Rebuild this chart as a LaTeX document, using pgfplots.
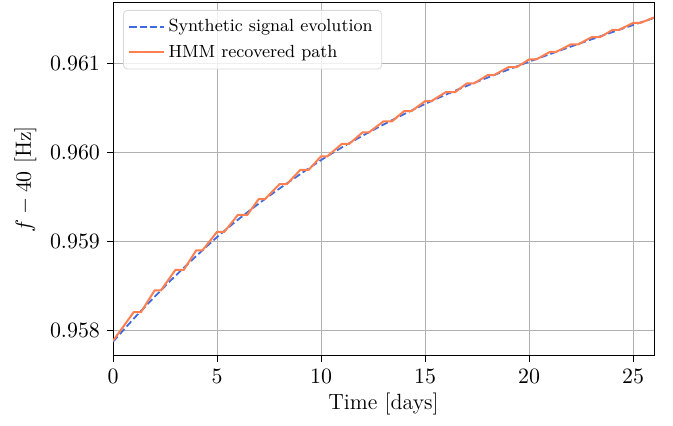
\documentclass[border=0pt]{standalone}
\usepackage{pgfplots}
\pgfplotsset{compat=1.18}
\definecolor{royalblue}{HTML}{4169E1}
\definecolor{coral}{HTML}{FF7F50}
\definecolor{gridgray}{HTML}{B0B0B0}
\begin{document}
\begin{tikzpicture}
\begin{axis}[
  scale only axis,
  width=270.5pt, height=176.5pt,
  xmin=0, xmax=26,
  ymin=0.95771, ymax=0.961674,
  xtick={0,5,10,15,20,25},
  ytick={0.958,0.959,0.960,0.961},
  yticklabels={$0.958$,$0.959$,$0.960$,$0.961$},
  tick align=outside,
  xtick pos=bottom, ytick pos=left,
  major tick length=3pt,
  tick style={black, line width=0.4pt},
  grid=major,
  major grid style={gridgray, line width=0.5pt},
  axis line style={black, line width=0.5pt},
  ticklabel style={font=\fontsize{11}{13}\selectfont},
  label style={font=\fontsize{11}{13}\selectfont},
  xlabel={Time [days]},
  ylabel={$f-40$ [Hz]},
  xlabel style={yshift=2pt},
  legend style={at={(0,1)}, anchor=north west, xshift=5pt, yshift=-3.5pt,
    draw=black!15, rounded corners=2pt, fill=white, fill opacity=0.8, text opacity=1,
    font=\fontsize{8.8}{10}\selectfont, row sep=1pt, inner sep=2.5pt},
  legend cell align=left,
]
\addplot[royalblue, line width=0.9pt, dash pattern=on 3.5pt off 1.6pt, smooth] coordinates {
(0,0.957870) (1,0.958130) (2,0.958375) (3,0.958610) (4,0.958832) (5,0.959045)
(6,0.959240) (7,0.959420) (8,0.959590) (9,0.959752) (10,0.959910) (11,0.960052)
(12,0.960184) (13,0.960309) (14,0.960427) (15,0.960540) (16,0.960645) (17,0.960743)
(18,0.960836) (19,0.960926) (20,0.961015) (21,0.961100) (22,0.961184) (23,0.961266)
(24,0.961347) (25,0.961427) (26,0.961506)
};
\addlegendentry{Synthetic signal evolution}
\addplot[coral, line width=1pt] coordinates {
(0,0.957880)
(1,0.958204) (1.35,0.958204)
(2,0.958446) (2.3,0.958446)
(3,0.958677) (3.4,0.958677)
(4,0.958896) (4.3,0.958896)
(5,0.959104) (5.35,0.959104)
(6,0.959294) (6.45,0.959294)
(7,0.959471) (7.3,0.959471)
(8,0.959639) (8.35,0.959639)
(9,0.959799) (9.4,0.959799)
(10,0.959953) (10.3,0.959953)
(11,0.960092) (11.35,0.960092)
(12,0.960222) (12.3,0.960222)
(13,0.960344) (13.4,0.960344)
(14,0.960461) (14.35,0.960461)
(15,0.960572) (15.3,0.960572)
(16,0.960674) (16.45,0.960674)
(17,0.960771) (17.35,0.960771)
(18,0.960863) (18.3,0.960863)
(19,0.960953) (19.4,0.960953)
(20,0.961041) (20.35,0.961041)
(21,0.961125) (21.3,0.961125)
(22,0.961209) (22.35,0.961209)
(23,0.961290) (23.4,0.961290)
(24,0.961371) (24.3,0.961371)
(25,0.961451) (25.35,0.961451)
(26,0.961512)
};
\addlegendentry{HMM recovered path}
\end{axis}
\pgfresetboundingbox
\path ([xshift=-56.5pt,yshift=-35pt]current axis.south west) rectangle ([xshift=9.5pt,yshift=1.5pt]current axis.north east);
\end{tikzpicture}
\end{document}
